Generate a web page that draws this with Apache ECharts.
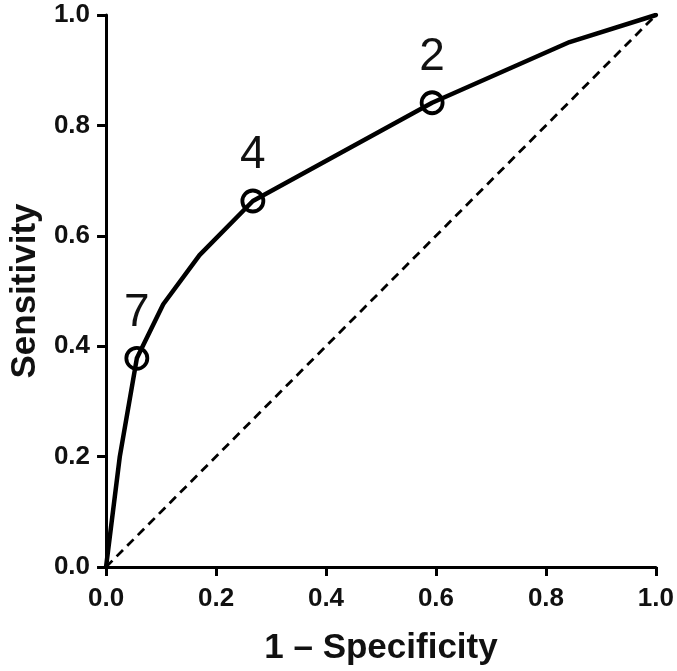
<!DOCTYPE html>
<html>
<head>
<meta charset="utf-8">
<script src="https://cdn.jsdelivr.net/npm/echarts@6/dist/echarts.min.js"></script>
<style>
html,body{margin:0;padding:0;background:#fff;}
#chart{width:677px;height:671px;}
</style>
</head>
<body>
<div id="chart"></div>
<script>
// ROC curve points [1 - specificity, sensitivity]
const rocFpr = [0, 0.025, 0.056, 0.104, 0.17, 0.267, 0.593, 0.843, 1];
const rocTpr = [0, 0.2, 0.378, 0.476, 0.565, 0.663, 0.841, 0.951, 1];
// Labelled cut-off points
const cutLabels = ['7', '4', '2'];
const cutFpr = [0.056, 0.267, 0.593];
const cutTpr = [0.378, 0.663, 0.841];
// Chance diagonal
const diagFpr = [0, 1];
const diagTpr = [0, 1];
const xTitle = '1 \u2013 Specificity';
const yTitle = 'Sensitivity';

const FONT = "Arial, 'Liberation Sans', sans-serif";
const chart = echarts.init(document.getElementById('chart'), null, {renderer: 'canvas'});

const axisCommon = {
  type: 'value', min: 0, max: 1, interval: 0.2,
  splitLine: {show: false},
  axisLine: {show: true, onZero: false, lineStyle: {color: '#000', width: 3}},
  axisTick: {show: true, inside: false, length: 9, lineStyle: {color: '#000', width: 3}},
  axisLabel: {color: '#111', fontFamily: FONT, fontWeight: 'bold', fontSize: 26,
    formatter: v => v.toFixed(1)},
  nameLocation: 'middle',
  nameTextStyle: {color: '#111', fontFamily: FONT, fontWeight: 'bold', fontSize: 35}
};

chart.setOption({
  animation: false,
  backgroundColor: '#fff',
  grid: {left: 101, right: 20, top: 15, bottom: 102, containLabel: false},
  xAxis: Object.assign({}, axisCommon, {
    name: xTitle, nameGap: 64,
    axisLabel: Object.assign({}, axisCommon.axisLabel, {margin: 19})
  }),
  yAxis: Object.assign({}, axisCommon, {
    name: yTitle, nameGap: 63,
    axisLabel: Object.assign({}, axisCommon.axisLabel, {margin: 16})
  }),
  series: [
    {
      type: 'line', data: diagFpr.map((x, i) => [x, diagTpr[i]]),
      showSymbol: false, symbol: 'none', silent: true,
      lineStyle: {color: '#000', width: 2.8, type: [9, 6]}
    },
    {
      type: 'line', data: rocFpr.map((x, i) => [x, rocTpr[i]]),
      showSymbol: false, symbol: 'none', silent: true,
      lineStyle: {color: '#000', width: 4.5, join: 'round', cap: 'round'}
    },
    {
      type: 'scatter', data: cutFpr.map((x, i) => [x, cutTpr[i], cutLabels[i]]),
      symbol: 'circle', symbolSize: 21, silent: true,
      itemStyle: {color: 'rgba(0,0,0,0)', borderColor: '#000', borderWidth: 3.8, opacity: 1},
      label: {show: true, position: 'top', distance: 10,
        formatter: p => p.data[2], color: '#111', fontFamily: FONT, fontSize: 46, fontWeight: 'normal'}
    }
  ]
});
</script>
</body>
</html>
